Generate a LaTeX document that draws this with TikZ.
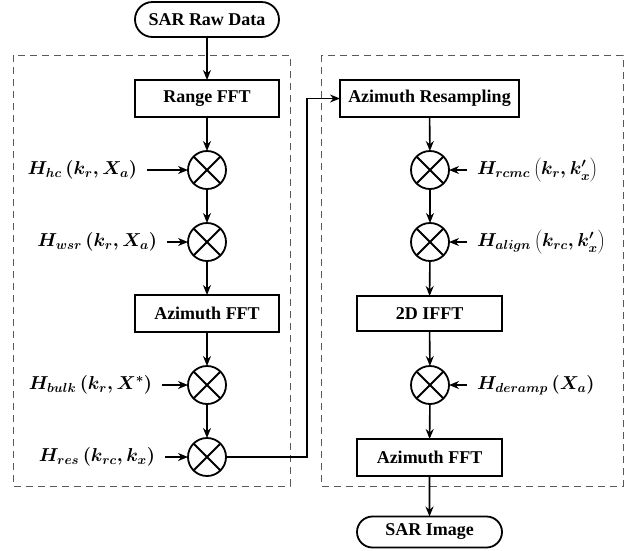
\RequirePackage{fix-cm}
\documentclass[tikz,border=0pt]{standalone}
\usepackage{fontspec}
\setmainfont{Liberation Serif}
\usetikzlibrary{arrows.meta,shapes.misc}
\begin{document}
\begin{tikzpicture}[x=1pt,y=-1pt,
  txt/.style={font=\fontsize{18}{21}\selectfont\bfseries},
  box/.style={txt, draw, line width=1.8pt, minimum height=37pt, inner sep=0pt, outer sep=0pt},
  pill/.style={box, rounded rectangle},
  mult/.style={draw, circle, line width=1.8pt, minimum size=38pt, inner sep=0pt, outer sep=0pt},
  lab/.style={font=\fontsize{18.7}{22}\selectfont\boldmath, inner sep=0pt, outer sep=0pt},
  flow/.style={line width=1.6pt, -{Stealth[length=10pt,width=8pt]}},
  frame/.style={gray!70!black, line width=1pt, dash pattern=on 7pt off 5pt}
]
\useasboundingbox (0,0) rectangle (642,550);
% frames
\draw[frame] (13,55) rectangle (290,486);
\draw[frame] (321,55) rectangle (623,486);
% left column
\node[pill, minimum width=144pt, minimum height=35pt] (raw) at (207,19.5) {SAR Raw Data};
\node[box, minimum width=144pt] (rfft) at (207,98.5) {Range FFT};
\node[mult] (c1) at (207,170) {};
\node[mult] (c2) at (207,242) {};
\node[box, minimum width=144pt] (afft) at (207,313.5) {Azimuth FFT};
\node[mult] (c3) at (207,385) {};
\node[mult] (c4) at (207,457) {};
% right column
\node[box, minimum width=179pt] (ares) at (429.5,98.5) {Azimuth Resampling};
\node[mult] (r1) at (430,170) {};
\node[mult] (r2) at (430,242) {};
\node[box, minimum width=145pt, minimum height=35pt] (ifft) at (429.5,313.5) {2D IFFT};
\node[mult] (r3) at (430,385) {};
\node[box, minimum width=145pt] (afft2) at (429.5,457.5) {Azimuth FFT};
\node[pill, minimum width=145pt, minimum height=31pt] (img) at (429.5,532) {SAR Image};
% crosses
\foreach \c in {c1,c2,c3,c4,r1,r2,r3}{
  \draw[line width=1.8pt] (\c.north west) -- (\c.south east);
  \draw[line width=1.8pt] (\c.north east) -- (\c.south west);
}
% labels
\node[lab, anchor=east] (lhc) at (137,170) {$H_{hc}\left(k_r,X_a\right)$};
\node[lab, anchor=east] (lwsr) at (157,242) {$H_{wsr}\left(k_r,X_a\right)$};
\node[lab, anchor=east] (lbulk) at (152,385) {$H_{bulk}\left(k_r,X^{*}\right)$};
\node[lab, anchor=east] (lres) at (155,457) {$H_{res}\left(k_{rc},k_x\right)$};
\node[lab, anchor=west] (lrcmc) at (477,170) {$H_{rcmc}\left(k_r,k_x'\right)$};
\node[lab, anchor=west] (lalign) at (477,242) {$H_{align}\left(k_{rc},k_x'\right)$};
\node[lab, anchor=west] (lder) at (477,385) {$H_{deramp}\left(X_a\right)$};
% flow
\draw[flow] (raw) -- (rfft);
\draw[flow] (rfft) -- (c1);
\draw[flow] (c1) -- (c2);
\draw[flow] (c2) -- (afft);
\draw[flow] (afft) -- (c3);
\draw[flow] (c3) -- (c4);
\draw[flow] (c4.east) -- (307,457) -- (307,98.5) -- (ares.west);
\draw[flow] (ares) -- (r1);
\draw[flow] (r1) -- (r2);
\draw[flow] (r2) -- (ifft);
\draw[flow] (ifft) -- (r3);
\draw[flow] (r3) -- (afft2);
\draw[flow] (afft2) -- (img);
% side inputs
\foreach \l/\c in {lhc/c1,lwsr/c2,lbulk/c3,lres/c4}
  \draw[flow, shorten <=10pt] (\l.east) -- (\c.west);
\foreach \l/\c in {lrcmc/r1,lalign/r2,lder/r3}
  \draw[flow, shorten <=10pt] (\l.west) -- (\c.east);
\end{tikzpicture}
\end{document}
